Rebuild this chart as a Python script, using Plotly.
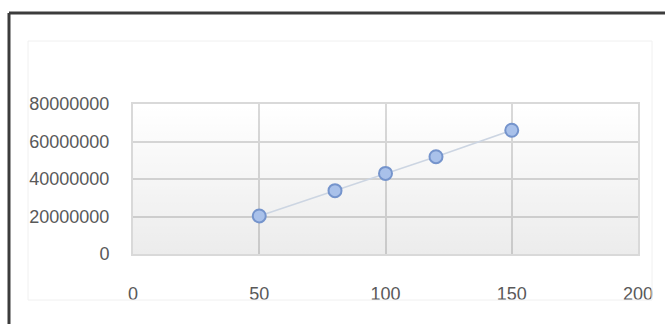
import plotly.graph_objects as go

x_vals = [50, 80, 100, 120, 150]
y_vals = [20300000, 33800000, 43000000, 51900000, 66000000]
x_ticks = [0, 50, 100, 150, 200]
y_ticks = [0, 20000000, 40000000, 60000000, 80000000]
x_range = [0, 200]
y_range = [0, 80000000]

W, H = 665, 324
L, R, T, B = 133, 27, 104, 70
pw, ph = W - L - R, H - T - B

fig = go.Figure()

# translucent gradient over plot background (gridlines show through)
fig.add_trace(go.Scatter(
    x=[x_range[0], x_range[1], x_range[1], x_range[0], x_range[0]],
    y=[y_range[0], y_range[0], y_range[1], y_range[1], y_range[0]],
    mode="none", fill="toself",
    fillgradient=dict(type="vertical",
                      colorscale=[[0, "rgba(0,0,0,0.075)"],
                                  [1, "rgba(0,0,0,0)"]]),
    hoverinfo="skip", showlegend=False,
))

fig.add_trace(go.Scatter(
    x=x_vals, y=y_vals, mode="lines+markers",
    line=dict(color="#ccd5e2", width=1.5),
    marker=dict(size=13, color="#a9c1ea",
                line=dict(color="#7594cc", width=2)),
    showlegend=False,
))

font = dict(family="Liberation Sans", size=18, color="#595959")

fig.update_layout(
    width=W, height=H,
    margin=dict(l=L, r=R, t=T, b=B),
    paper_bgcolor="white", plot_bgcolor="white",
    font=font,
    xaxis=dict(range=x_range, tickvals=x_ticks, showgrid=True,
               gridcolor="#d9d9d9", gridwidth=2, zeroline=False,
               showline=True, linecolor="#d9d9d9", linewidth=2, mirror=True,
               ticks="", ticklabelstandoff=22, tickfont=font),
    yaxis=dict(range=y_range, tickvals=y_ticks, tickformat="d", showgrid=True,
               gridcolor="#d9d9d9", gridwidth=2, zeroline=False,
               showline=True, linecolor="#d9d9d9", linewidth=2, mirror=True,
               ticks="", ticklabelstandoff=18, tickfont=font),
    shapes=[
        dict(type="line", xref="paper", yref="paper",
             x0=(9 - L) / pw, x1=(9 - L) / pw,
             y0=-(H + 10 - T - ph) / ph, y1=1 + (T - 13) / ph,
             line=dict(color="#3c3c3c", width=3)),
        dict(type="line", xref="paper", yref="paper",
             x0=(9 - L) / pw, x1=(W + 10 - L) / pw,
             y0=1 + (T - 13) / ph, y1=1 + (T - 13) / ph,
             line=dict(color="#3c3c3c", width=3)),
        dict(type="rect", xref="paper", yref="paper",
             x0=(28 - L) / pw, x1=(652 - L) / pw,
             y0=-(300 - T - ph) / ph, y1=1 + (T - 41) / ph,
             line=dict(color="#f0f0f0", width=1)),
    ],
)

fig.write_html("out.html")
